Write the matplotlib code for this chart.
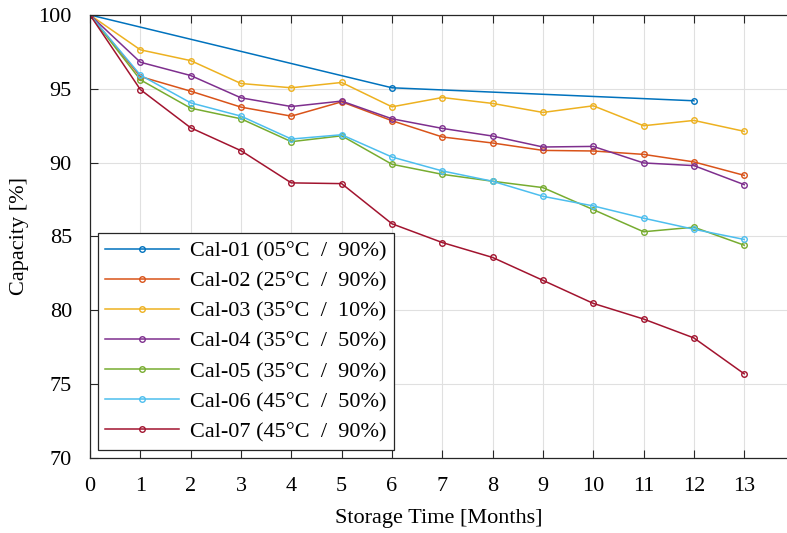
import matplotlib
matplotlib.use("Agg")
import matplotlib.pyplot as plt

plt.rcParams['font.family'] = ['Liberation Serif', 'DejaVu Serif']

# storage months and capacity [%] per calendar-aging cell
months = list(range(14))
months_01 = [0, 6, 12]
cal_01 = [100, 95.07, 94.19]
cal_02 = [100, 95.83, 94.84, 93.76, 93.15, 94.12, 92.84, 91.74, 91.33, 90.83, 90.79, 90.56, 90.05, 89.14]
cal_03 = [100, 97.64, 96.91, 95.36, 95.07, 95.43, 93.78, 94.41, 94.01, 93.40, 93.85, 92.50, 92.86, 92.12]
cal_04 = [100, 96.80, 95.90, 94.39, 93.80, 94.17, 92.97, 92.32, 91.80, 91.06, 91.10, 89.98, 89.80, 88.51]
cal_05 = [100, 95.61, 93.69, 92.97, 91.42, 91.82, 89.89, 89.21, 88.74, 88.31, 86.82, 85.32, 85.63, 84.41]
cal_06 = [100, 95.93, 94.05, 93.15, 91.60, 91.89, 90.38, 89.44, 88.74, 87.72, 87.07, 86.24, 85.49, 84.80]
cal_07 = [100, 94.95, 92.36, 90.81, 88.63, 88.58, 85.86, 84.59, 83.58, 82.03, 80.47, 79.41, 78.13, 75.70]

labels = ["Cal-01 (05°C  /  90%)", "Cal-02 (25°C  /  90%)", "Cal-03 (35°C  /  10%)",
          "Cal-04 (35°C  /  50%)", "Cal-05 (35°C  /  90%)", "Cal-06 (45°C  /  50%)",
          "Cal-07 (45°C  /  90%)"]
colors = ['#0072BD', '#D95319', '#EDB120', '#7E2F8E', '#77AC30', '#4DBEEE', '#A2142F']

fig = plt.figure(figsize=(7.87, 5.33), dpi=100)
ax = fig.add_axes([0.1144, 0.1407, 0.8856, 0.8312])

series = [(months_01, cal_01), (months, cal_02), (months, cal_03), (months, cal_04),
          (months, cal_05), (months, cal_06), (months, cal_07)]
for (x, y), lab, c in zip(series, labels, colors):
    ax.plot(x, y, color=c, lw=1.1, marker='o', ms=4, mfc='none', mew=1.0, label=lab)

ax.set_xlim(0, 13.85)
ax.set_ylim(70, 100)
ax.set_xticks(range(14))
ax.set_yticks(range(70, 101, 5))
ax.grid(True, color='#e0e0e0', lw=0.8)
ax.set_axisbelow(True)
ax.tick_params(direction='in', top=True, right=False, labelsize=16, length=6,
               width=0.8, color='#262626')
ax.tick_params(axis='x', pad=14)
ax.tick_params(axis='y', pad=13)
for s in ['left', 'bottom', 'top']:
    ax.spines[s].set_color('#262626')
    ax.spines[s].set_linewidth(0.9)
ax.spines['right'].set_visible(False)

ax.set_xlabel("Storage Time [Months]", fontsize=16, labelpad=9)
ax.set_ylabel("Capacity [%]", fontsize=16, labelpad=7)

leg = ax.legend(loc='lower left', bbox_to_anchor=(0.011, 0.018), fontsize=16,
                fancybox=False, edgecolor='#262626', framealpha=1,
                handlelength=3.3, borderaxespad=0, labelspacing=0.43,
                handletextpad=0.5, borderpad=0.35)
leg.get_frame().set_linewidth(0.9)

fig.savefig("out.png", dpi=100)
